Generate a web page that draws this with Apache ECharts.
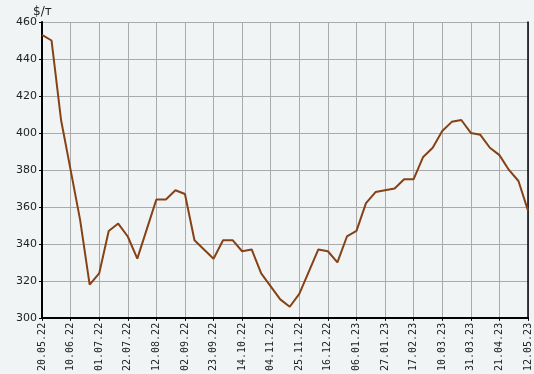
<!DOCTYPE html>
<html><head><meta charset="utf-8">
<script src="https://cdn.jsdelivr.net/npm/echarts@6/dist/echarts.min.js"></script>
<style>html,body{margin:0;padding:0;background:#f1f4f5}#c{width:534px;height:374px}</style>
</head><body><div id="c"></div>
<script>
var categories = ["20.05.22","27.05.22","03.06.22","10.06.22","17.06.22","24.06.22","01.07.22","08.07.22","15.07.22","22.07.22","29.07.22","05.08.22","12.08.22","19.08.22","26.08.22","02.09.22","09.09.22","16.09.22","23.09.22","30.09.22","07.10.22","14.10.22","21.10.22","28.10.22","04.11.22","11.11.22","18.11.22","25.11.22","02.12.22","09.12.22","16.12.22","23.12.22","30.12.22","06.01.23","13.01.23","20.01.23","27.01.23","03.02.23","10.02.23","17.02.23","24.02.23","03.03.23","10.03.23","17.03.23","24.03.23","31.03.23","07.04.23","14.04.23","21.04.23","28.04.23","05.05.23","12.05.23"];
var prices = [453,450,407,380,353,318,324,347,351,344,332,348,364,364,369,367,342,337,332,342,342,336,337,324,317,310,306,313,325,337,336,330,344,347,362,368,369,370,375,375,387,392,401,406,407,400,399,392,388,380,374,358];
var unitLabel = "$/т";
var yMin = 300, yMax = 460, yStep = 20;

var chart = echarts.init(document.getElementById('c'));
chart.setOption({
  animation: false,
  backgroundColor: '#f1f4f5',
  title: {text: unitLabel, left: 28, top: 1, textStyle: {fontFamily: 'DejaVu Sans', fontSize: 12, fontWeight: 'normal', color: '#222'}},
  grid: {left: 42, right: 6, top: 22, bottom: 54, show: true, backgroundColor: '#f1f4f5', borderWidth: 0},
  xAxis: {
    type: 'category', data: categories, boundaryGap: false,
    axisLine: {lineStyle: {color: '#000', width: 2}},
    axisTick: {show: true, interval: 2, length: 3, lineStyle: {color: '#000'}},
    axisLabel: {interval: 2, rotate: 90, fontFamily: 'DejaVu Sans Mono', fontSize: 10, color: '#222', margin: 5},
    splitLine: {show: true, interval: 2, lineStyle: {color: '#aaaaaa', width: 1}}
  },
  yAxis: [{
    type: 'value', min: yMin, max: yMax, interval: yStep,
    axisLine: {show: true, lineStyle: {color: '#000', width: 2}},
    axisTick: {show: true, length: 3, lineStyle: {color: '#000'}},
    axisLabel: {fontFamily: 'DejaVu Sans', fontSize: 11, color: '#222', margin: 5},
    splitLine: {show: true, lineStyle: {color: '#aaaaaa', width: 1}}
  }, {
    type: 'value', min: yMin, max: yMax, interval: yStep, position: 'right',
    axisLine: {show: true, lineStyle: {color: '#000', width: 1.5}},
    axisTick: {show: false}, axisLabel: {show: false}, splitLine: {show: false}
  }],
  series: [{
    type: 'line', data: prices, yAxisIndex: 0, showSymbol: false, symbol: 'none',
    lineStyle: {color: '#864216', width: 2}
  }]
});
</script></body></html>
